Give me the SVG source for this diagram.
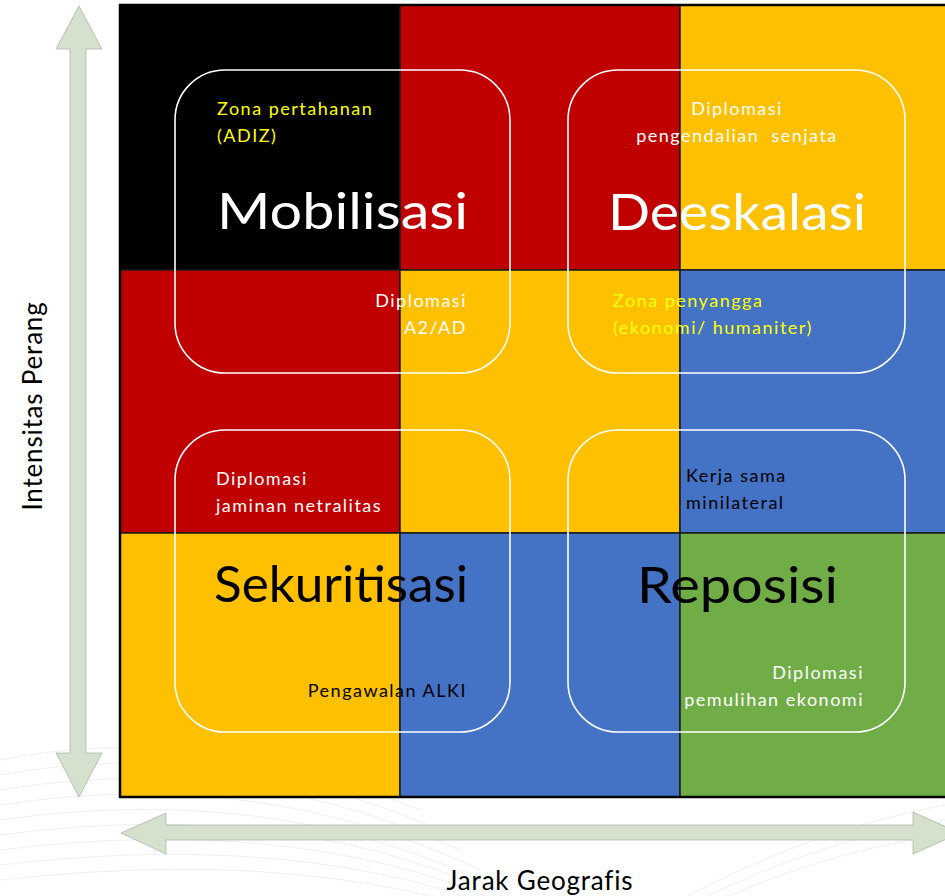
<svg xmlns="http://www.w3.org/2000/svg" width="945" height="896" viewBox="0 0 945 896">
<style>
.arrow{fill:#d5e1cd;stroke:#9aa394;stroke-width:0.6}
.cell{stroke:#1a1a1a;stroke-width:1.5}
.box{fill:none;stroke:#ffffff;stroke-width:1.6}
text{font-family:Lato,"Open Sans","Liberation Sans",sans-serif}
.big{font-size:50px}
.sm{font-size:18px;letter-spacing:1.5px}
.ax{font-size:26px;fill:#000;letter-spacing:0.8px}
.w{fill:#ffffff}.y{fill:#ffff00}.k{fill:#000000}
.wave{fill:none;stroke:#edf1ef;stroke-width:1}
</style>
<rect width="945" height="896" fill="#ffffff"/>
<g id="background-texture">
<path class="wave" d="M0 760 Q200 720 420 810"/>
<path class="wave" d="M0 775 Q220 735 440 830"/>
<path class="wave" d="M0 790 Q240 750 460 850"/>
<path class="wave" d="M0 805 Q260 765 480 870"/>
<path class="wave" d="M0 820 Q280 780 500 890"/>
<path class="wave" d="M0 835 Q300 795 520 905"/>
<path class="wave" d="M0 850 Q320 810 540 920"/>
<path class="wave" d="M0 865 Q340 825 560 935"/>
<path class="wave" d="M0 880 Q360 840 580 950"/>
<path class="wave" d="M700 900 Q820 840 945 820"/>
<path class="wave" d="M680 900 Q810 830 945 805"/>
<path class="wave" d="M720 900 Q830 850 945 835"/>
</g>
<g id="grid">
<rect class="cell" x="120" y="5" width="280" height="265" fill="#000000"/>
<rect class="cell" x="400" y="5" width="280" height="265" fill="#c00000"/>
<rect class="cell" x="680" y="5" width="270" height="265" fill="#ffc000"/>
<rect class="cell" x="120" y="270" width="280" height="263" fill="#c00000"/>
<rect class="cell" x="400" y="270" width="280" height="263" fill="#ffc000"/>
<rect class="cell" x="680" y="270" width="270" height="263" fill="#4472c4"/>
<rect class="cell" x="120" y="533" width="280" height="264" fill="#ffc000"/>
<rect class="cell" x="400" y="533" width="280" height="264" fill="#4472c4"/>
<rect class="cell" x="680" y="533" width="270" height="264" fill="#70ad47"/>
<rect x="120" y="5" width="830" height="792" fill="none" stroke="#000" stroke-width="2.5"/>
</g>
<g id="axes">
<polygon id="axis-vertical" class="arrow" points="79,6 102,49 86,49 86,753 102,753 79,797 56,753 70,753 70,49 56,49"/>
<polygon id="axis-horizontal" class="arrow" points="121,833 166,813 166,825 913,825 913,812 960,833 913,854 913,840 166,840 166,854"/>
<text class="ax" x="42" y="406" text-anchor="middle" transform="rotate(-90 42 406)">Intensitas Perang</text>
<text class="ax" x="540" y="890" text-anchor="middle">Jarak Geografis</text>
</g>
<g id="mobilisasi">
<rect class="box" x="175" y="70" width="335" height="303" rx="50"/>
<text class="sm y" x="217" y="115">Zona pertahanan</text>
<text class="sm y" x="217" y="142">(ADIZ)</text>
<text class="big w" x="217" y="229" textLength="251" lengthAdjust="spacingAndGlyphs">Mobilisasi</text>
<text class="sm w" x="467" y="307" text-anchor="end">Diplomasi</text>
<text class="sm w" x="467" y="334" text-anchor="end">A2/AD</text>
</g>
<g id="deeskalasi">
<rect class="box" x="568" y="70" width="337" height="303" rx="50"/>
<text class="sm w" x="737" y="115" text-anchor="middle">Diplomasi</text>
<text class="sm w" x="737" y="142" text-anchor="middle" xml:space="preserve">pengendalian  senjata</text>
<text class="big w" x="608" y="230" textLength="258" lengthAdjust="spacingAndGlyphs">Deeskalasi</text>
<text class="sm y" x="613" y="307">Zona penyangga</text>
<text class="sm y" x="613" y="334">(ekonomi/ humaniter)</text>
</g>
<g id="sekuritisasi">
<rect class="box" x="175" y="430" width="335" height="302" rx="50"/>
<text class="sm w" x="216" y="485">Diplomasi</text>
<text class="sm w" x="216" y="512">jaminan netralitas</text>
<text class="big k" x="214" y="602" textLength="254" lengthAdjust="spacingAndGlyphs">Sekuritisasi</text>
<text class="sm k" x="467" y="697" text-anchor="end">Pengawalan ALKI</text>
</g>
<g id="reposisi">
<rect class="box" x="568" y="430" width="337" height="302" rx="50"/>
<text class="sm k" x="686" y="482">Kerja sama</text>
<text class="sm k" x="686" y="509">minilateral</text>
<text class="big k" x="637" y="603" textLength="201" lengthAdjust="spacingAndGlyphs">Reposisi</text>
<text class="sm w" x="864" y="679" text-anchor="end">Diplomasi</text>
<text class="sm w" x="864" y="706" text-anchor="end">pemulihan ekonomi</text>
</g>
</svg>
